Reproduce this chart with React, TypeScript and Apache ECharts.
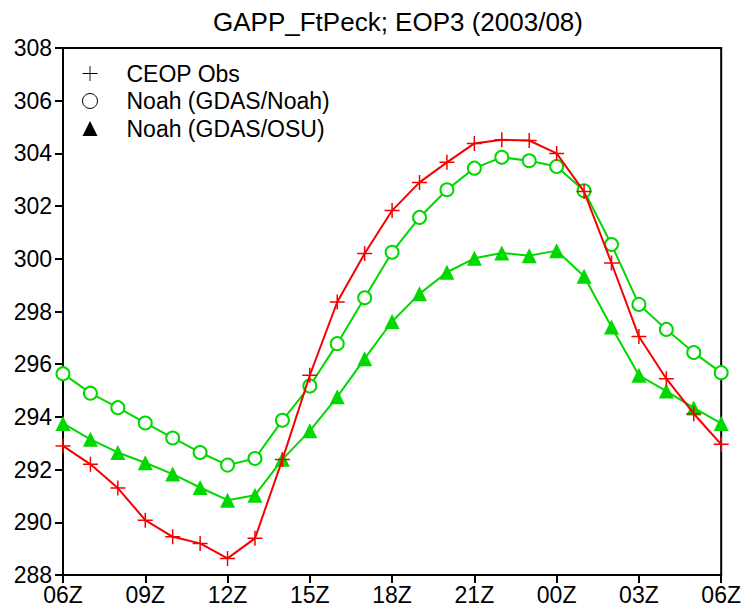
import React, { useEffect, useRef } from "react";
import * as echarts from "echarts";

const hours = ["06Z","07Z","08Z","09Z","10Z","11Z","12Z","13Z","14Z","15Z","16Z","17Z","18Z","19Z","20Z","21Z","22Z","23Z","00Z","01Z","02Z","03Z","04Z","05Z","06Z"];
const ceopObs = [292.9,292.2,291.3,290.08,289.45,289.2,288.63,289.39,292.38,295.58,298.36,300.2,301.83,302.9,303.66,304.38,304.52,304.49,304.0,302.55,299.84,297.05,295.45,294.12,292.96];
const gdasNoah = [295.64,294.9,294.35,293.77,293.2,292.65,292.17,292.42,293.87,295.17,296.78,298.52,300.25,301.57,302.62,303.44,303.85,303.72,303.5,302.58,300.54,298.27,297.32,296.44,295.68];
const gdasOsu = [293.75,293.15,292.65,292.26,291.83,291.32,290.84,291.03,292.39,293.47,294.76,296.21,297.62,298.67,299.49,300.02,300.22,300.12,300.31,299.34,297.41,295.58,294.98,294.34,293.75];
const yTicks = { min: 288, max: 308, interval: 2 };
const seriesNames = ["CEOP Obs", "Noah (GDAS/Noah)", "Noah (GDAS/OSU)"];
const titleText = "GAPP_FtPeck; EOP3 (2003/08)";

const PLUS = "path://M9,0 H11 V9 H20 V11 H11 V20 H9 V11 H0 V9 H9 Z";
const PLUS_THIN = "path://M9.4,0 H10.6 V9.4 H20 V10.6 H10.6 V20 H9.4 V10.6 H0 V9.4 H9.4 Z";
const RED = "#f50000";
const GREEN = "#00d800";
const FONT = "Liberation Sans";

export default function App() {
  const ref = useRef<HTMLDivElement>(null);
  useEffect(() => {
    if (!ref.current) return;
    const chart = echarts.init(ref.current, undefined, { renderer: "svg" });
    chart.setOption({
      animation: false,
      backgroundColor: "#fff",
      title: {
        text: titleText,
        left: 393,
        textAlign: "center",
        top: 4,
        textStyle: { fontFamily: FONT, fontSize: 26, fontWeight: "normal", color: "#000" },
      },
      legend: {
        orient: "vertical",
        left: 77,
        top: 57,
        itemWidth: 15,
        itemHeight: 15,
        itemGap: 4.5,
        textStyle: { fontFamily: FONT, fontSize: 23, lineHeight: 23, color: "#000", padding: [0, 0, 0, 24] },
        data: [
          { name: seriesNames[0], icon: PLUS_THIN, itemStyle: { color: "#000", borderWidth: 0 } },
          { name: seriesNames[1], icon: "circle", itemStyle: { color: "#fff", borderColor: "#000", borderWidth: 1 } },
          { name: seriesNames[2], icon: "triangle", itemStyle: { color: "#000", borderWidth: 0 } },
        ],
      },
      grid: {
        left: 63,
        right: 18,
        top: 48,
        bottom: 29,
        show: true,
        borderColor: "#000",
        borderWidth: 2,
        containLabel: false,
      },
      xAxis: {
        type: "category",
        data: hours,
        boundaryGap: false,
        axisLine: { lineStyle: { color: "#000", width: 2 } },
        axisTick: { interval: 2, length: 8, lineStyle: { color: "#000", width: 2 } },
        axisLabel: {
          interval: 2,
          fontFamily: FONT,
          fontSize: 23,
          color: "#000",
          margin: 8,
        },
        splitLine: { show: false },
      },
      yAxis: {
        type: "value",
        min: yTicks.min,
        max: yTicks.max,
        interval: yTicks.interval,
        axisLine: { show: true, lineStyle: { color: "#000", width: 2 } },
        axisTick: { show: true, length: 8, lineStyle: { color: "#000", width: 2 } },
        axisLabel: { fontFamily: FONT, fontSize: 23, color: "#000", margin: 11 },
        splitLine: { show: false },
      },
      series: [
        {
          name: seriesNames[0],
          type: "line",
          data: ceopObs,
          symbol: PLUS,
          symbolSize: 15,
          showAllSymbol: true,
          itemStyle: { color: RED },
          lineStyle: { color: RED, width: 2 },
          z: 3,
        },
        {
          name: seriesNames[1],
          type: "line",
          data: gdasNoah,
          symbol: "circle",
          symbolSize: 13,
          showAllSymbol: true,
          itemStyle: { color: "#fff", borderColor: GREEN, borderWidth: 2 },
          lineStyle: { color: GREEN, width: 2 },
          z: 2,
        },
        {
          name: seriesNames[2],
          type: "line",
          data: gdasOsu,
          symbol: "triangle",
          symbolSize: 15,
          showAllSymbol: true,
          itemStyle: { color: GREEN },
          lineStyle: { color: GREEN, width: 2 },
          z: 2,
        },
      ],
    });
    return () => chart.dispose();
  }, []);
  return (
    <div
      ref={ref}
      style={{ position: "fixed", left: 0, top: 0, width: 744, height: 606, background: "#fff" }}
    />
  );
}
